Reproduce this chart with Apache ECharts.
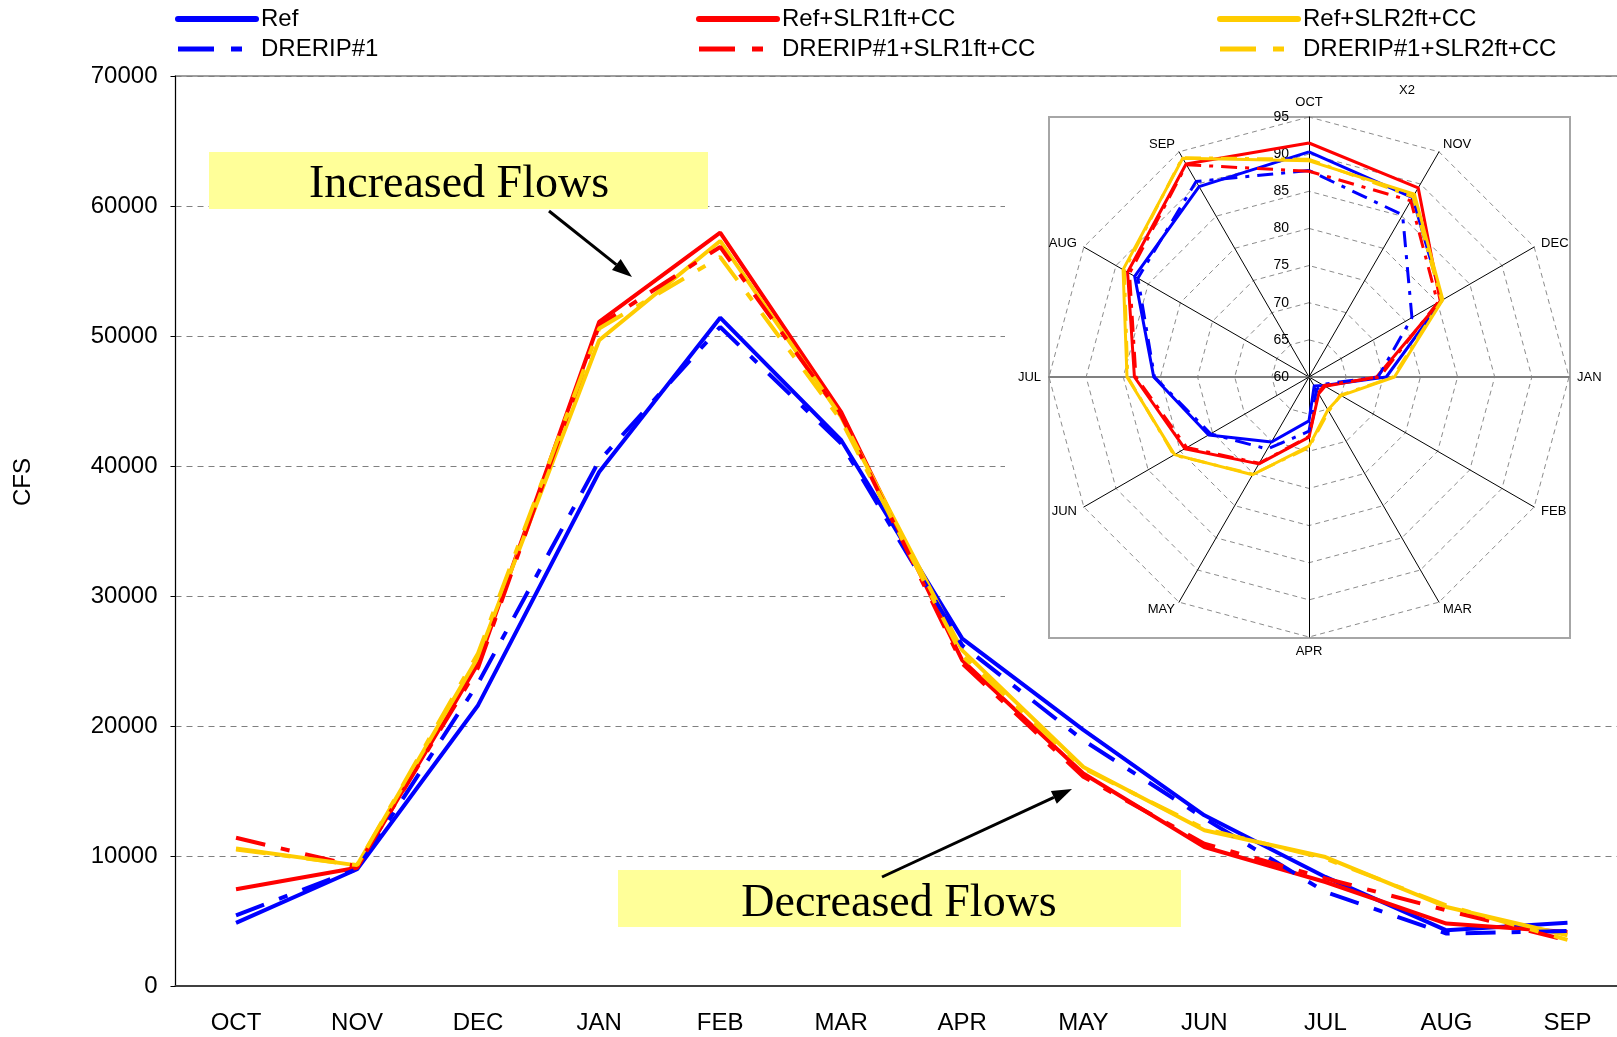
<!DOCTYPE html>
<html>
<head>
<meta charset="utf-8">
<script src="https://cdn.jsdelivr.net/npm/echarts@6/dist/echarts.min.js"></script>
<style>
html,body{margin:0;padding:0;background:#fff;}
#chart{width:1617px;height:1037px;}
</style>
</head>
<body>
<div id="chart"></div>
<script>
var months = ['OCT','NOV','DEC','JAN','FEB','MAR','APR','MAY','JUN','JUL','AUG','SEP'];
var names = ['Ref','Ref+SLR1ft+CC','Ref+SLR2ft+CC','DRERIP#1','DRERIP#1+SLR1ft+CC','DRERIP#1+SLR2ft+CC'];
var colors = ['#0000FF','#FF0000','#FFCC00','#0000FF','#FF0000','#FFCC00'];

// monthly flow, CFS
var ref     = [4850, 8980, 21600, 39540, 51410, 41980, 26720, 19700, 13130, 8390, 4280, 4870];
var refSlr1 = [7440, 9100, 24800, 51080, 57950, 44150, 25050, 16340, 10690, 8000, 4800, 4150];
var refSlr2 = [10570, 9280, 25300, 49670, 57310, 43770, 25820, 16850, 11980, 9920, 6080, 3900];
var drerip  = [5440, 9000, 23300, 40400, 50690, 41720, 26200, 18900, 12900, 7230, 4030, 4230];
var drSlr1  = [11400, 9200, 24500, 50820, 56850, 43900, 24800, 16100, 10950, 8280, 5820, 3510];
var drSlr2  = [10500, 9300, 25600, 50570, 56080, 43500, 25400, 16750, 12100, 9800, 6200, 3550];

// X2 inset, same month order
var x2Ref     = [90.3, 87.9, 80.7, 70.4, 62.3, 61.4, 65.9, 70.1, 75.6, 80.9, 87.1, 89.6];
var x2Slr1    = [91.5, 89.4, 80.4, 69.1, 62.5, 62.6, 68.1, 73.5, 79.3, 83.5, 88.2, 93.1];
var x2Slr2    = [89.1, 88.4, 80.8, 71.5, 65.0, 65.1, 69.3, 75.2, 80.9, 84.5, 88.9, 94.0];
var x2Drerip  = [87.8, 85.2, 76.0, 69.3, 62.0, 62.0, 67.3, 71.2, 75.3, 80.8, 86.6, 90.4];
var x2DrSlr1  = [87.7, 87.4, 80.0, 69.5, 62.3, 62.5, 68.0, 73.4, 79.0, 83.3, 87.9, 93.0];
var x2DrSlr2  = [89.3, 88.0, 80.6, 71.3, 64.9, 65.3, 69.5, 75.1, 81.0, 84.4, 88.7, 94.1];

var flows = [ref, refSlr1, refSlr2, drerip, drSlr1, drSlr2];
var x2s = [x2Ref, x2Slr1, x2Slr2, x2Drerip, x2DrSlr1, x2DrSlr2];

var FONT = "'Liberation Sans', Arial, sans-serif";
var SERIF = "'Liberation Serif', 'DejaVu Serif', serif";

// radar goes counter clockwise, the excel one clockwise
var order = [0, 11, 10, 9, 8, 7, 6, 5, 4, 3, 2, 1];

function arrow(sx, sy, tx, ty){
	var dx = tx - sx, dy = ty - sy;
	var len = Math.sqrt(dx*dx + dy*dy);
	var ux = dx/len, uy = dy/len;
	var bx = tx - 20*ux, by = ty - 20*uy;
	return [
		{type:'polyline', shape:{points:[[sx,sy],[bx,by]]}, style:{stroke:'#000', lineWidth:3}, z:12},
		{type:'polygon', shape:{points:[[tx,ty],[bx-7*uy,by+7*ux],[bx+7*uy,by-7*ux]]}, style:{fill:'#000'}, z:12}
	];
}

var series = [];
flows.forEach(function(d, i){
	series.push({
		name: names[i],
		type: 'line',
		data: d,
		symbol: 'none',
		z: 2,
		lineStyle: {color: colors[i], width: 4, type: i < 3 ? 'solid' : [30,16,9,16], cap: 'butt'},
		itemStyle: {color: colors[i]}
	});
});
x2s.forEach(function(d, i){
	series.push({
		name: names[i],
		type: 'radar',
		z: 4,
		symbol: 'none',
		lineStyle: {color: colors[i], width: 3, type: i < 3 ? 'solid' : [16,8,4,8]},
		itemStyle: {color: colors[i]},
		data: [{name: names[i], value: order.map(function(j){ return d[j]; })}]
	});
});

var legendLeft = [175, 696, 1217];

var myChart = echarts.init(document.getElementById('chart'));
var option = {
	backgroundColor: '#fff',
	animation: false,
	textStyle: {fontFamily: FONT},
	legend: legendLeft.map(function(l, c){
		return {
			data: [
				{name: names[c], lineStyle: {width: 6, cap: 'round'}},
				{name: names[c+3], lineStyle: {width: 5, type: [36,17,11,20]}}
			],
			orient: 'vertical',
			left: l,
			top: 7,
			padding: 0,
			itemWidth: 78,
			itemHeight: 14,
			itemGap: 6,
			itemStyle: {opacity: 0},
			textStyle: {fontSize: 24, color: '#000', fontFamily: FONT}
		};
	}),
	grid: {left: 175.5, right: -11, top: 76, bottom: 51, show: true, borderColor: '#808080', borderWidth: 1.5, outerBoundsMode: 'none', containLabel: false},
	xAxis: [{
		type: 'category',
		data: months,
		position: 'bottom',
		boundaryGap: true,
		axisLine: {lineStyle: {color: '#404040', width: 2}},
		axisTick: {alignWithLabel: false, interval: 0, length: 8, lineStyle: {color: '#404040', width: 1.5}},
		axisLabel: {interval: 0, fontSize: 24, color: '#000', margin: 25, fontFamily: FONT},
		splitLine: {show: false}
	}, {
		type: 'category',
		data: months,
		position: 'bottom',
		boundaryGap: true,
		axisLine: {show: false},
		axisTick: {alignWithLabel: true, interval: 0, length: 5, lineStyle: {color: '#404040', width: 1.5}},
		axisLabel: {show: false},
		splitLine: {show: false}
	}],
	yAxis: {
		type: 'value',
		min: 0,
		max: 70000,
		interval: 10000,
		name: 'CFS',
		nameLocation: 'middle',
		nameRotate: 90,
		nameGap: 140,
		nameTextStyle: {fontSize: 24, color: '#000', fontFamily: FONT, padding: [0, 0, 0, 98]},
		axisLine: {show: true, lineStyle: {color: '#000', width: 1}},
		axisTick: {show: true, length: 5, lineStyle: {color: '#000'}},
		axisLabel: {fontSize: 24, color: '#000', margin: 18, fontFamily: FONT, formatter: function(v){ return String(v); }},
		splitLine: {show: true, lineStyle: {color: '#808080', type: [6,5], width: 1}}
	},
	radar: {
		center: [1309, 377],
		radius: 260,
		startAngle: 90,
		shape: 'polygon',
		splitNumber: 7,
		z: 3,
		nameGap: 8,
		axisName: {color: '#000', fontSize: 13, fontFamily: FONT},
		indicator: order.map(function(j){
			var ind = {name: months[j], min: 60, max: 95};
			if (j === 0) ind.axisLabel = {show: true};
			if (j === 3 || j === 9) ind.axisLine = {lineStyle: {color: '#808080', width: 2}};
			return ind;
		}),
		axisLine: {lineStyle: {color: '#000', width: 1}},
		axisTick: {show: false},
		axisLabel: {show: false, color: '#000', fontSize: 14, margin: 20, fontFamily: FONT},
		splitLine: {lineStyle: {color: '#8c8c8c', type: [5,4], width: 1}},
		splitArea: {show: false}
	},
	graphic: [
		{type: 'rect', shape: {x: 1005, y: 79, width: 620, height: 600}, style: {fill: '#fff'}, z: 1, silent: true},
		{type: 'rect', shape: {x: 1049, y: 117, width: 521, height: 521}, style: {fill: 'none', stroke: '#a6a6a6', lineWidth: 2}, z: 1, silent: true},
		{type: 'text', x: 1407, y: 90, style: {text: 'X2', fontSize: 13, fontFamily: FONT, fill: '#000', align: 'center', verticalAlign: 'middle'}, z: 5},
		{type: 'rect', shape: {x: 209, y: 152, width: 499, height: 57}, style: {fill: '#FFFF99'}, z: 10},
		{type: 'text', x: 459, y: 185, style: {text: 'Increased Flows', fontSize: 46, fontFamily: SERIF, fill: '#000', align: 'center', verticalAlign: 'middle'}, z: 11},
		{type: 'rect', shape: {x: 618, y: 870, width: 563, height: 57}, style: {fill: '#FFFF99'}, z: 10},
		{type: 'text', x: 899, y: 904, style: {text: 'Decreased Flows', fontSize: 46, fontFamily: SERIF, fill: '#000', align: 'center', verticalAlign: 'middle'}, z: 11}
	].concat(arrow(549, 211, 632, 277)).concat(arrow(882, 877, 1072, 789)),
	series: series
};
myChart.setOption(option);
</script>
</body>
</html>
